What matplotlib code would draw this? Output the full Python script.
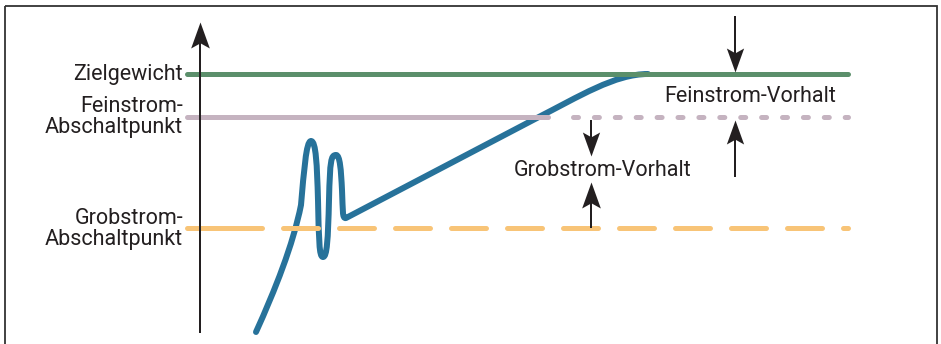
import matplotlib
matplotlib.use("Agg")
import matplotlib.pyplot as plt
from matplotlib.path import Path
from matplotlib.patches import PathPatch, Rectangle

plt.rcParams['font.family'] = ['Roboto', 'DejaVu Sans']
plt.rcParams['lines.scale_dashes'] = False

# ---- data (drawing units, y grows downward) ----
level_names = ["Zielgewicht", "Feinstrom-\nAbschaltpunkt", "Grobstrom-\nAbschaltpunkt"]
level_values = [74, 117, 228]          # target, fine cut-off, coarse cut-off
level_x_range = [187, 848]
fine_cross_x = 548                      # where the fill curve passes the fine cut-off

# fill curve: Bezier vertices (x, y) and codes
curve_x = [256, 275, 293, 301, 304, 306, 311, 316, 317, 318, 319, 319, 323, 327, 328, 329,
           330, 331, 336, 340, 341, 342, 343, 342, 346, 535, 580, 615, 648]
curve_y = [332, 290, 245, 205, 172, 141, 141, 141, 165, 200, 240, 257, 257, 257, 240, 200,
           160, 155, 155, 155, 170, 190, 210, 219, 218, 119, 96, 74, 74]
curve_codes = ["M", "C", "C", "C", "C", "C", "C", "C", "C", "C", "C", "C", "C", "C", "C", "C",
               "C", "C", "C", "C", "C", "C", "C", "C", "C", "L", "C", "C", "C"]

axis_x = 200
axis_y = [333, 22]
fein_vorhalt_x = 735
grob_vorhalt_x = 591
fein_text = "Feinstrom-Vorhalt"
grob_text = "Grobstrom-Vorhalt"

# ---- colours ----
c_green = "#5b8f6b"
c_mauve = "#c5b3c0"
c_orange = "#f8c477"
c_blue = "#27729a"
c_ink = "#231f20"

px = 0.72  # points per pixel at dpi 100

fig = plt.figure(figsize=(9.41, 3.44), dpi=100)
ax = fig.add_axes([0, 0, 1, 1])
ax.set_xlim(0, 941)
ax.set_ylim(344, 0)
ax.axis("off")

# frame
ax.add_patch(Rectangle((5, 6), 932, 345, fill=False, edgecolor="#333333", linewidth=1.3))

# fill curve
code_map = {"M": Path.MOVETO, "L": Path.LINETO, "C": Path.CURVE4}
path = Path(list(zip(curve_x, curve_y)), [code_map[c] for c in curve_codes])
ax.add_patch(PathPatch(path, fill=False, edgecolor=c_blue, linewidth=6 * px,
                       capstyle="round", joinstyle="round", zorder=2))

lw = 5 * px
# target weight
ax.plot(level_x_range, [level_values[0]] * 2, color=c_green, lw=lw,
        solid_capstyle="round", zorder=3)
# fine cut-off: solid until crossing, dotted afterwards
solid_len = (fine_cross_x - level_x_range[0]) * px
mauve_dashes = [solid_len, 25 * px] + [5 * px, 15.9 * px] * 16
ax.plot(level_x_range, [level_values[1]] * 2, color=c_mauve, lw=lw,
        dashes=mauve_dashes, dash_capstyle="round", zorder=3)
# coarse cut-off: dashed
orange_dashes = [75 * px, 21 * px] + [35 * px, 21 * px] * 14
ax.plot(level_x_range, [level_values[2]] * 2, color=c_orange, lw=lw,
        dashes=orange_dashes, dash_capstyle="round", zorder=3)

# labels
for name, val in zip(level_names, level_values):
    ax.text(183, val + 0.5, name, ha="right", va="center", fontsize=15.5,
            color=c_ink, linespacing=1.0)

# notched arrow heads as custom markers (tip at origin)
def head_path(direction):
    s = 1 if direction == "up" else -1
    verts = [(0, 0), (0.36, -1.0 * s), (0, -0.8 * s), (-0.36, -1.0 * s), (0, 0)]
    return Path(verts, [Path.MOVETO, Path.LINETO, Path.LINETO, Path.LINETO, Path.CLOSEPOLY])

def arrow(x, y0, y1, hl=24):
    direction = "up" if y1 < y0 else "down"
    stem_end = y1 + (0.7 * hl if direction == "up" else -0.7 * hl)
    ax.plot([x, x], [y0, stem_end], color=c_ink, lw=2 * px, solid_capstyle="butt", zorder=4)
    ax.plot([x], [y1], marker=head_path(direction), markersize=2 * hl * px,
            color=c_ink, markeredgewidth=0, linestyle="none", zorder=5)

arrow(axis_x, axis_y[0], axis_y[1], hl=26)
arrow(fein_vorhalt_x, 16, level_values[0] - 2)
arrow(fein_vorhalt_x, 177, level_values[1] + 3)
arrow(grob_vorhalt_x, level_values[1] + 3, 156)
arrow(grob_vorhalt_x, level_values[2], 182, hl=26)

ax.text(750, 96, fein_text, ha="center", va="center", fontsize=15.5, color=c_ink)
ax.text(603, 171, grob_text, ha="center", va="center", fontsize=15.5, color=c_ink)

fig.savefig("out.png", dpi=100)
